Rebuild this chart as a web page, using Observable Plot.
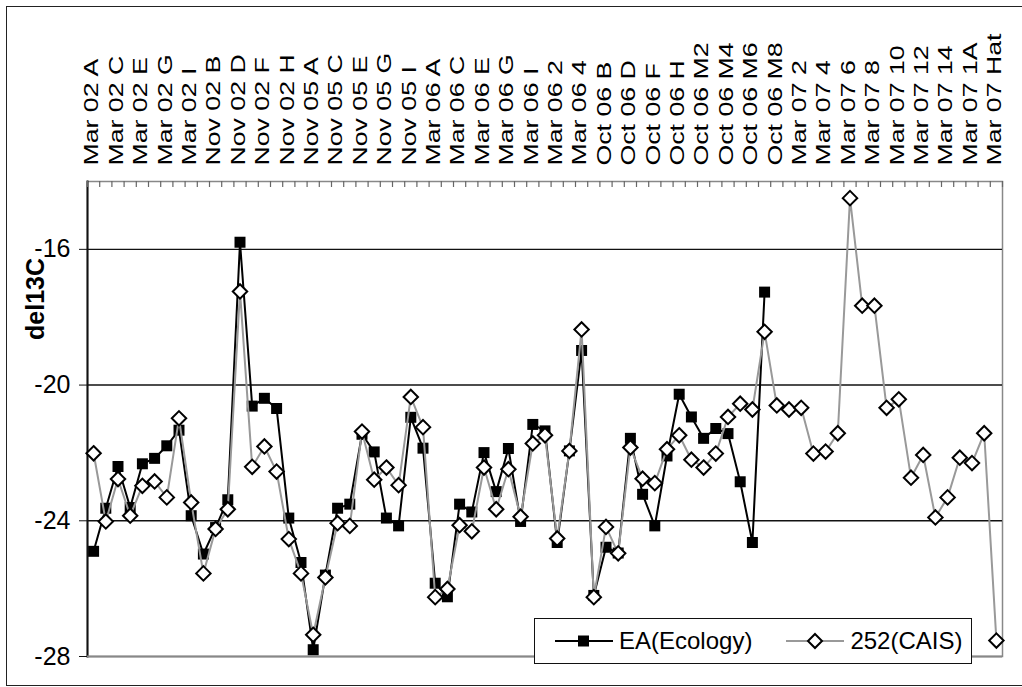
<!DOCTYPE html>
<html>
<head>
<meta charset="utf-8">
<script src="https://cdn.jsdelivr.net/npm/d3@7"></script>
<script src="https://cdn.jsdelivr.net/npm/@observablehq/plot@0.6"></script>
<style>
  body { margin: 0; background: #fff; }
  #chart { position: relative; width: 1022px; height: 687px; overflow: hidden;
           font-family: "Liberation Sans", Arial, sans-serif; }
  #frame { position: absolute; left: 6px; top: 6px; width: 1040px; height: 678px;
           border: 1.5px solid #222; }
  #plot { position: absolute; left: 0; top: 0; }
  #legend { position: absolute; left: 534px; top: 618px; width: 436px; height: 44px;
            border: 1.5px solid #111; background: #fff; display: flex; align-items: center;
            font-size: 24px; color: #000; }
  .item { display: flex; align-items: center; }
  .item svg { display: block; }
</style>
</head>
<body>
<div id="chart">
  <div id="frame"></div>
  <div id="plot"></div>
  <div id="legend">
    <div class="item" style="margin-left:20px">
      <svg width="58" height="20"><line x1="0" y1="10" x2="58" y2="10" stroke="#000" stroke-width="2"/><rect x="23" y="4.5" width="11" height="11" fill="#000"/></svg>
      <span style="margin-left:6px">EA(Ecology)</span>
    </div>
    <div class="item" style="margin-left:34px">
      <svg width="58" height="20"><line x1="0" y1="10" x2="58" y2="10" stroke="#999" stroke-width="2"/><path d="M29,3 L36,10 L29,17 L22,10 Z" fill="#fff" stroke="#000" stroke-width="2"/></svg>
      <span style="margin-left:6px">252(CAIS)</span>
    </div>
  </div>
</div>
<script>
// Sample labels along the x axis (every other one is printed)
const categories = [
  "Mar 02 A", "Mar 02 B", "Mar 02 C", "Mar 02 D", "Mar 02 E", "Mar 02 F", "Mar 02 G", "Mar 02 H",
  "Mar 02 I", "Nov 02 A", "Nov 02 B", "Nov 02 C", "Nov 02 D", "Nov 02 E", "Nov 02 F", "Nov 02 G",
  "Nov 02 H", "Nov 02 I", "Nov 05 A", "Nov 05 B", "Nov 05 C", "Nov 05 D", "Nov 05 E", "Nov 05 F",
  "Nov 05 G", "Nov 05 H", "Nov 05 I", "Nov 05 J", "Mar 06 A", "Mar 06 B", "Mar 06 C", "Mar 06 D",
  "Mar 06 E", "Mar 06 F", "Mar 06 G", "Mar 06 H", "Mar 06 I", "Mar 06 1", "Mar 06 2", "Mar 06 3",
  "Mar 06 4", "Oct 06 A", "Oct 06 B", "Oct 06 C", "Oct 06 D", "Oct 06 E", "Oct 06 F", "Oct 06 G",
  "Oct 06 H", "Oct 06 M1", "Oct 06 M2", "Oct 06 M3", "Oct 06 M4", "Oct 06 M5", "Oct 06 M6", "Oct 06 M7",
  "Oct 06 M8", "Mar 07 1", "Mar 07 2", "Mar 07 3", "Mar 07 4", "Mar 07 5", "Mar 07 6", "Mar 07 7",
  "Mar 07 8", "Mar 07 9", "Mar 07 10", "Mar 07 11", "Mar 07 12", "Mar 07 13", "Mar 07 14", "Mar 07 15",
  "Mar 07 1A", "Mar 07 1B", "Mar 07 Hat"
];

// del13C measured by EA (Ecology); null where no sample was run
const eaEcology = [
  -24.9, -23.63, -22.4, -23.61, -22.32, -22.16, -21.79, -21.33,
  -23.85, -24.98, -24.2, -23.38, -15.79, -20.62, -20.39, -20.69,
  -23.92, -25.23, -27.8, -25.6, -23.63, -23.51, -21.45, -21.97,
  -23.92, -24.15, -20.95, -21.86, -25.84, -26.24, -23.51, -23.74,
  -21.99, -23.14, -21.87, -24.02, -21.16, -21.35, -24.64, -21.94,
  -18.98, -26.2, -24.78, -24.95, -21.57, -23.22, -24.15, -22.09,
  -20.27, -20.94, -21.57, -21.28, -21.43, -22.85, -24.64, -17.26,
  null, null, null, null, null, null, null, null,
  null, null, null, null, null, null, null, null,
  null, null, null
];

// del13C measured on instrument 252 (CAIS)
const cais252 = [
  -22.01, -24.02, -22.77, -23.85, -22.97, -22.84, -23.31, -20.98,
  -23.46, -25.55, -24.24, -23.66, -17.24, -22.41, -21.81, -22.55,
  -24.54, -25.55, -27.36, -25.67, -24.07, -24.15, -21.37, -22.79,
  -22.43, -22.95, -20.35, -21.24, -26.25, -26.01, -24.13, -24.31,
  -22.43, -23.66, -22.48, -23.88, -21.72, -21.48, -24.52, -21.94,
  -18.36, -26.25, -24.18, -24.96, -21.84, -22.76, -22.89, -21.89,
  -21.48, -22.2, -22.43, -22.02, -20.94, -20.55, -20.72, -18.43,
  -20.6, -20.72, -20.67, -22.02, -21.96, -21.42, -14.49, -17.66,
  -17.66, -20.67, -20.42, -22.73, -22.06, -23.9, -23.31, -22.14,
  -22.3, -21.42, -27.53
];

const yTicks = [-28, -24, -20, -16];
const yDomain = [-28, -14];

const rows = categories.map((c, i) => ({cat: c, ea: eaEcology[i], cais: cais252[i]}));
const labelled = categories.filter((c, i) => i % 2 === 0);

const W = 1022, H = 687;
const mL = 87, mR = 20, mT = 181, mB = 31;
const step = (W - mL - mR) / categories.length;
const font = "'Liberation Sans', Arial, sans-serif";

const chart = Plot.plot({
  width: W,
  height: H,
  marginLeft: mL,
  marginRight: mR,
  marginTop: mT,
  marginBottom: mB,
  style: {fontFamily: font, background: "transparent", color: "#000", overflow: "visible"},
  x: {type: "point", domain: categories, padding: 0.5, round: false, axis: null},
  y: {domain: yDomain, axis: null},
  marks: [
    // plot area border: grey top/right, black left
    Plot.frame({stroke: "#888", strokeWidth: 1.5}),
    Plot.frame({anchor: "left", stroke: "#111", strokeWidth: 2}),
    // horizontal gridlines and grey baseline
    Plot.ruleY(yTicks.filter(v => v > yDomain[0]), {stroke: "#111", strokeWidth: 1.4}),
    Plot.ruleY([yDomain[0]], {stroke: "#888", strokeWidth: 2}),
    // category tick marks hanging from the top edge, between samples
    Plot.ruleX(categories, {x: d => d, dx: -step / 2, y1: yDomain[1], y2: yDomain[1], insetBottom: -6, stroke: "#666", strokeWidth: 1.2}),
    Plot.ruleX(categories.slice(-1), {x: d => d, dx: step / 2, y1: yDomain[1], y2: yDomain[1], insetBottom: -6, stroke: "#666", strokeWidth: 1.2}),
    // sample labels across the top
    Plot.axisX({anchor: "top", ticks: labelled, tickSize: 0, tickPadding: 16, tickRotate: -90,
                fontSize: 21, label: null, tickFormat: d => d, dx: -2}),
    // value axis
    Plot.axisY({ticks: yTicks, tickSize: 8, tickPadding: 9, fontSize: 25, label: null,
                tickFormat: d => String(d), stroke: "#111"}),
    Plot.text(["del13C"], {frameAnchor: "left", textAnchor: "middle", dx: -52, dy: -120, rotate: -90,
                fontWeight: "bold", fontSize: 25, fill: "#000"}),
    // series
    Plot.line(rows, {x: "cat", y: "ea", stroke: "#000", strokeWidth: 2}),
    Plot.dot(rows.filter(d => d.ea != null), {x: "cat", y: "ea", symbol: "square", r: 6.2, fill: "#000", stroke: "none"}),
    Plot.line(rows, {x: "cat", y: "cais", stroke: "#999", strokeWidth: 2}),
    Plot.dot(rows, {x: "cat", y: "cais", symbol: "diamond2", r: 6.5, fill: "#fff", stroke: "#000", strokeWidth: 2})
  ]
});

document.getElementById("plot").appendChild(chart);

// stretch the rotated sample labels along their length
d3.select(chart).selectAll('g[aria-label="x-axis tick label"] text').each(function () {
  const t = this.getAttribute("transform") || "";
  this.setAttribute("transform", t + " scale(1.27,1)");
});
</script>
</body>
</html>
